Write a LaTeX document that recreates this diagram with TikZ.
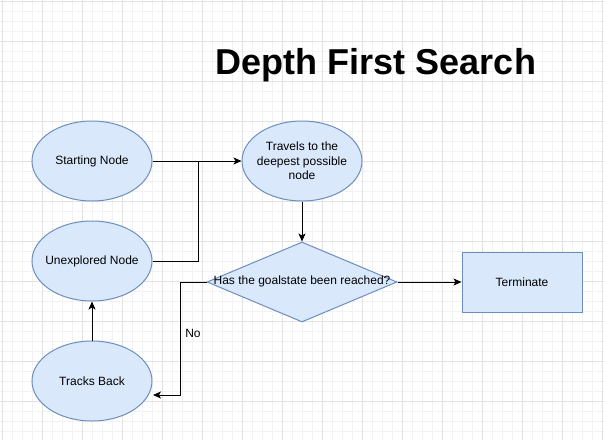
\documentclass[tikz,border=0pt]{standalone}
\usepackage{fontspec}
\setmainfont{Liberation Sans}
\usetikzlibrary{shapes.geometric,arrows.meta}
\definecolor{boxfill}{HTML}{DAE8FC}
\definecolor{boxdraw}{HTML}{6C8EBF}
\definecolor{gridminor}{HTML}{F2F2F2}
\definecolor{gridmajor}{HTML}{E2E2E2}
\begin{document}
\begin{tikzpicture}[x=1pt,y=-1pt,
  blob/.style={ellipse,draw=boxdraw,fill=boxfill,line width=1pt,minimum width=120pt,minimum height=80pt,inner sep=0pt},
  rbox/.style={rectangle,draw=boxdraw,fill=boxfill,line width=1pt,minimum width=120pt,minimum height=60pt,inner sep=0pt,font=\fontsize{12}{14.5}\selectfont},
  dia/.style={diamond,draw=boxdraw,fill=boxfill,line width=1pt,minimum width=190pt,minimum height=80pt,inner sep=0pt},
  lbl/.style={font=\fontsize{12}{14.5}\selectfont,inner sep=0pt,align=center},
  conn/.style={line width=1pt,-{Stealth[length=8pt,width=7pt,inset=2pt]}},
  plain/.style={line width=1pt}]
\fill[white] (0,0) rectangle (604,440);
\useasboundingbox (0,0) rectangle (604,440);
\foreach \i in {0,...,60} {\draw[gridminor,line width=0.7pt] (2+10*\i,0) -- (2+10*\i,440);}
\foreach \i in {0,...,44} {\draw[gridminor,line width=0.7pt] (0,1+10*\i) -- (604,1+10*\i);}
\foreach \i in {0,...,15} {\draw[gridmajor,line width=0.8pt] (2+40*\i,0) -- (2+40*\i,440);}
\foreach \i in {0,...,11} {\draw[gridmajor,line width=0.8pt] (0,1+40*\i) -- (604,1+40*\i);}
\node[font=\fontsize{36}{40}\selectfont\bfseries,anchor=base,inner sep=0pt] (title) at (376,74) {Depth First Search};
\node[blob] (s) at (92,161) {};
\node[lbl] (st) at (s.center) {Starting Node};
\node[blob] (u) at (92,261) {};
\node[lbl] (ut) at (u.center) {Unexplored Node};
\node[blob] (b) at (92,381) {};
\node[lbl] (bt) at (b.center) {Tracks Back};
\node[blob] (t) at (302,161) {};
\node[lbl] (tt) at (t.center) {Travels to the\\deepest possible\\node};
\node[dia] (q) at (302,282) {};
\node[lbl] (qt) at (302,281.5) {Has the goalstate been reached?};
\node[rbox] (term) at (522,282) {Terminate};
\coordinate (j) at (198,161);
\coordinate (c1) at (180,395);
\coordinate (c2) at (153,395);
\draw[conn] (s.east) -- (t.west);
\draw[plain] (u.east) -| (j);
\draw[conn] (t.south) -- (q.north);
\draw[conn] (q.east) -- (term.west);
\draw[conn] (q.west) -| (c1) -- (c2);
\node[lbl] (no) at (193,333) {No};
\draw[conn] (b.north) -- (u.south);
\end{tikzpicture}
\end{document}
